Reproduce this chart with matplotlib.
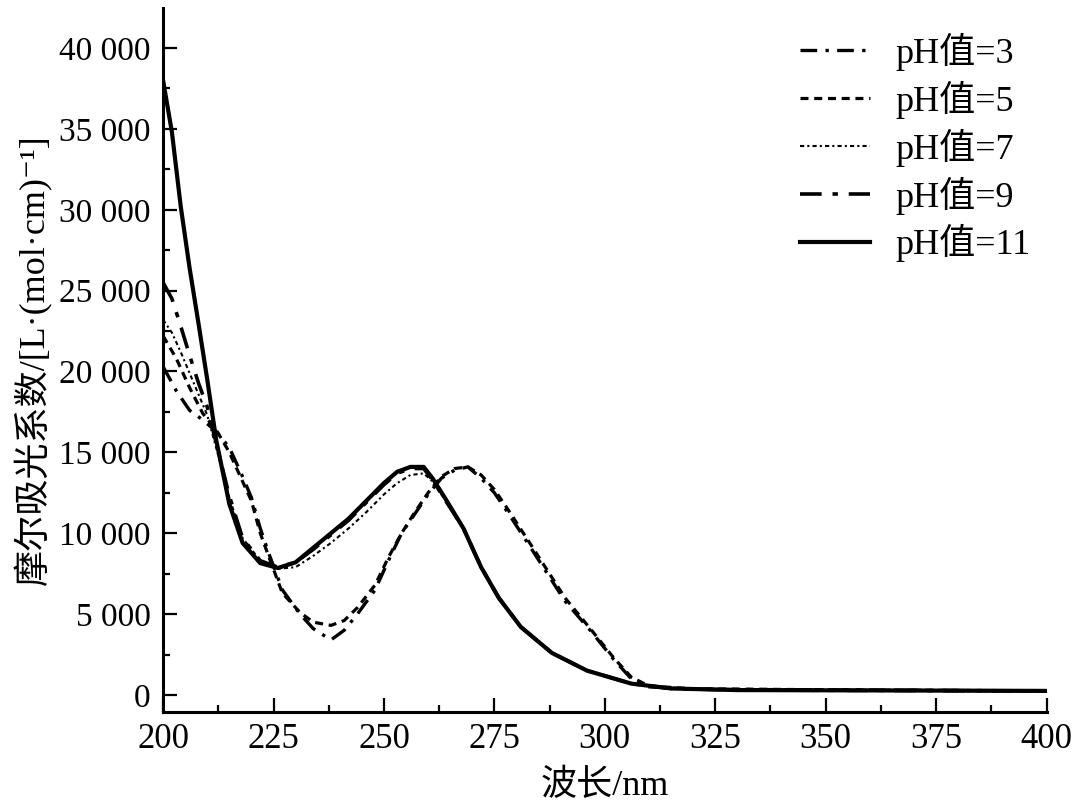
import numpy as np
import matplotlib
matplotlib.use('Agg')
import matplotlib.pyplot as plt
from matplotlib.ticker import MultipleLocator, FuncFormatter

fam = ['Liberation Serif', 'Noto Sans CJK SC', 'DejaVu Sans']
plt.rcParams['font.family'] = fam

# wavelength (nm) and molar absorption
x_a = [200, 203, 206, 209, 212, 215, 218, 220, 222, 224, 227, 231, 234, 238, 241, 244, 248, 251, 254,
       257, 260, 263, 266, 269, 272, 275, 278, 283, 287, 291, 297, 302, 306, 310, 320, 360, 400]
y_ph3 = [20300, 18800, 17600, 17000, 16300, 15300, 13500, 12200, 10300, 8700, 6500, 5000, 4100, 3400,
         4000, 5000, 6500, 8300, 10000, 11200, 12400, 13400, 13900, 14100, 13400, 12500, 11300, 9200,
         7500, 5800, 3900, 2200, 1000, 500, 350, 300, 250]
y_ph5 = [22200, 20800, 19000, 17400, 16400, 15000, 13200, 12000, 10000, 8500, 6300, 5100, 4500, 4300,
         4600, 5400, 6800, 8500, 10000, 11300, 12500, 13500, 14000, 14100, 13600, 12700, 11500, 9400,
         7700, 6000, 4000, 2300, 1100, 550, 380, 300, 250]

x_b = [200, 202, 204, 206, 208, 210, 212, 215, 218, 222, 226, 230, 234, 238, 242, 246, 250, 253, 256,
       259, 261, 264, 268, 272, 276, 281, 288, 296, 306, 315, 330, 360, 400]
y_ph7 = [23200, 22400, 21200, 19900, 18600, 17300, 15300, 12200, 9700, 8300, 7800, 7900, 8600, 9400,
         10300, 11300, 12400, 13100, 13600, 13700, 13200, 12000, 10300, 7900, 6000, 4200, 2600, 1500,
         700, 400, 300, 280, 250]
y_ph9 = [25500, 24500, 22800, 21000, 19300, 17800, 15600, 12300, 9700, 8300, 7900, 8200, 9000, 9900,
         10800, 11900, 13000, 13700, 14000, 14000, 13300, 12000, 10300, 7900, 6000, 4200, 2600, 1500,
         700, 400, 300, 280, 250]
y_ph11 = [38000, 34800, 30200, 26400, 23000, 19500, 15800, 11800, 9400, 8150, 7850, 8200, 9100, 10000,
          10900, 12000, 13100, 13800, 14100, 14100, 13400, 12100, 10300, 7900, 6000, 4200, 2600, 1500,
          700, 400, 300, 280, 250]

labels = ['pH值=3', 'pH值=5', 'pH值=7', 'pH值=9', 'pH值=11']

fig = plt.figure(figsize=(10.8, 8.09), dpi=100)
ax = fig.add_axes([0.151, 0.120, 0.818, 0.870])

ax.plot(x_a, y_ph3, color='black', lw=2.4, ls=(0, (5, 2.5, 1, 2.5)), label=labels[0])
ax.plot(x_a, y_ph5, color='black', lw=2.3, ls=(0, (2.5, 1.8)), label=labels[1])
ax.plot(x_b, y_ph7, color='black', lw=1.5, ls=(0, (2, 1.5, 1, 1.5)), label=labels[2])
ax.plot(x_b, y_ph9, color='black', lw=2.6, ls=(0, (6, 3, 1.5, 3)), label=labels[3])
ax.plot(x_b, y_ph11, color='black', lw=3.0, ls='-', label=labels[4])

ax.set_xlim(200, 400)
ax.set_ylim(-1050, 42470)
ax.xaxis.set_major_locator(MultipleLocator(25))
ax.xaxis.set_minor_locator(MultipleLocator(12.5))
ax.yaxis.set_major_locator(MultipleLocator(5000))
ax.yaxis.set_minor_locator(MultipleLocator(2500))
ax.yaxis.set_major_formatter(FuncFormatter(lambda v, p: f"{int(v):,}".replace(',', ' ')))

for s in ['top', 'right']:
    ax.spines[s].set_visible(False)
for s in ['left', 'bottom']:
    ax.spines[s].set_linewidth(2.2)

ax.tick_params(which='both', direction='in', width=1.6, colors='black')
ax.tick_params(which='major', length=10)
ax.tick_params(which='minor', length=5)
ax.tick_params(axis='y', labelsize=24, pad=9)
ax.tick_params(axis='x', labelsize=25, pad=8)

ax.set_xlabel('波长/nm', fontsize=26, family=fam, labelpad=10)
ax.set_ylabel('摩尔吸光系数/[L·(mol·cm)⁻¹]', fontsize=26, family=fam, labelpad=5)

ax.legend(loc='upper left', bbox_to_anchor=(800 / 1080, 1 - 33 / 809),
          bbox_transform=fig.transFigure, frameon=False, fontsize=26,
          handlelength=1.95, handletextpad=0.7, labelspacing=0.27,
          borderpad=0, borderaxespad=0)

fig.savefig('out.png', dpi=100)
